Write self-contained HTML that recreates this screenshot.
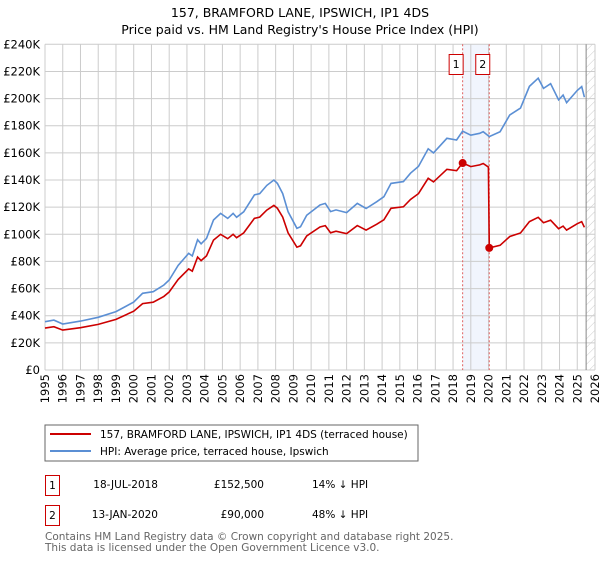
<!DOCTYPE html>
<html><head><meta charset="utf-8"><style>
body{margin:0;background:#fff;font-family:"Liberation Sans","DejaVu Sans",sans-serif;}
svg text{font-family:"DejaVu Sans","Liberation Sans",sans-serif;}
</style></head><body>
<svg id="c" width="600" height="560" xmlns="http://www.w3.org/2000/svg">
<text x="300" y="17" text-anchor="middle" font-size="12.5">157, BRAMFORD LANE, IPSWICH, IP1 4DS</text>
<text x="300" y="34" text-anchor="middle" font-size="12.5">Price paid vs. HM Land Registry's House Price Index (HPI)</text>
<defs><pattern id="hatch" width="6" height="6" patternUnits="userSpaceOnUse" patternTransform="rotate(45)"><line x1="0" y1="0" x2="0" y2="6" stroke="#ccc" stroke-width="1"/></pattern></defs>
<g id="grid"></g><g id="marks"></g><g id="axes"></g>
<rect x="45" y="425" width="373" height="36" fill="#fff" stroke="#666"/>
<line x1="50" y1="434" x2="91" y2="434" stroke="#cc0000" stroke-width="2"/>
<text x="100" y="438" font-size="10.5">157, BRAMFORD LANE, IPSWICH, IP1 4DS (terraced house)</text>
<line x1="50" y1="451" x2="91" y2="451" stroke="#5b8fd4" stroke-width="2"/>
<text x="100" y="455" font-size="10.5">HPI: Average price, terraced house, Ipswich</text>
<g font-size="10.5">
<rect x="45.5" y="475.5" width="14" height="20" fill="#fff" stroke="#cc0000"/>
<text x="52.5" y="489" text-anchor="middle">1</text>
<text x="158" y="488" text-anchor="end">18-JUL-2018</text>
<text x="264" y="488" text-anchor="end">£152,500</text>
<text x="312" y="488">14% ↓ HPI</text>
<rect x="45.5" y="505.5" width="14" height="20" fill="#fff" stroke="#cc0000"/>
<text x="52.5" y="519" text-anchor="middle">2</text>
<text x="158" y="518" text-anchor="end">13-JAN-2020</text>
<text x="264" y="518" text-anchor="end">£90,000</text>
<text x="312" y="518">48% ↓ HPI</text>
</g>
<text x="45" y="540" font-size="10.5" fill="#666">Contains HM Land Registry data © Crown copyright and database right 2025.</text>
<text x="45" y="551" font-size="10.5" fill="#666">This data is licensed under the Open Government Licence v3.0.</text>
</svg>
<script>
const hpiDates=[1995,1995.5,1996,1997,1998,1999,2000,2000.5,2001.1,2001.7,2002,2002.5,2003.1,2003.3,2003.6,2003.8,2004.1,2004.5,2004.9,2005.3,2005.6,2005.8,2006.2,2006.8,2007.1,2007.5,2007.9,2008.1,2008.4,2008.7,2009.2,2009.4,2009.75,2010.5,2010.8,2011.1,2011.4,2012,2012.6,2013.1,2013.7,2014.1,2014.5,2015.2,2015.6,2016.05,2016.6,2016.9,2017.65,2018.2,2018.54,2019,2019.5,2019.7,2020.04,2020.65,2021.2,2021.8,2022.3,2022.8,2023.1,2023.5,2023.95,2024.2,2024.4,2025,2025.25,2025.4];
const hpiValues=[35.6,36.8,33.9,36,38.8,43,50,56.5,57.7,62.6,66.3,77,86,84,96,93,97,110.5,115.4,111.7,115.4,112.5,116.6,129,130,136,140,137.5,130,116.6,104.4,105.6,114,121.6,122.8,116.7,118,116,122.8,119,124,127.7,137.5,138.8,145,150,163,160,170.7,169.5,176,173,174.4,175.6,172,175.6,188,193,209,215,207.5,211,199,202.6,197,206,208.8,201];
const saleDates=[2018.54,2020.04];
const salePrices=[152.5,90];
const saleLabels=["1","2"];
const yTicks=[0,20,40,60,80,100,120,140,160,180,200,220,240];
const xTicks=[1995,1996,1997,1998,1999,2000,2001,2002,2003,2004,2005,2006,2007,2008,2009,2010,2011,2012,2013,2014,2015,2016,2017,2018,2019,2020,2021,2022,2023,2024,2025,2026];
const X0=45,X1=595,Y0=370,Y1=44.3;
const sx=d=>X0+(d-1995)/(2026-1995)*(X1-X0);
const sy=v=>Y0-v/240*(Y0-Y1);
const NS="http://www.w3.org/2000/svg";
function mk(tag,attrs,parent){const e=document.createElementNS(NS,tag);for(const k in attrs)e.setAttribute(k,attrs[k]);parent.appendChild(e);return e;}
const grid=document.getElementById('grid'),marks=document.getElementById('marks'),axes=document.getElementById('axes');
let r=mk('rect',{x:sx(saleDates[0]),y:Y1,width:sx(saleDates[1])-sx(saleDates[0]),height:Y0-Y1,fill:'#eef3fc',opacity:0.8},grid);


yTicks.forEach(v=>{
 let l=mk('line',{x1:X0,x2:X1,y1:sy(v),y2:sy(v),stroke:'#ccc','stroke-width':1},grid);
 
 
 let t=mk('text',{x:40,y:sy(v)+4,'text-anchor':'end','font-size':11.5},axes);
 t.textContent=v===0?'£0':'£'+v+'K';
 
 
});
xTicks.forEach(d=>{
 let l=mk('line',{x1:sx(d),x2:sx(d),y1:Y1,y2:Y0,stroke:'#ccc','stroke-width':1},grid);
 
 
 let t=mk('text',{x:0,y:0,'font-size':11.5,'text-anchor':'end',transform:`translate(${sx(d)+4},${Y0+4}) rotate(-90)`},axes);
 t.textContent=d;
 
 
});
let h=mk('rect',{x:sx(2025.5),y:Y1,width:X1-sx(2025.5),height:Y0-Y1,fill:'url(#hatch)'},grid);


mk('line',{x1:sx(2025.5),x2:sx(2025.5),y1:Y1,y2:Y0,stroke:'#888','stroke-width':1},grid);
saleDates.forEach((d,i)=>{
 let l=mk('line',{x1:sx(d),x2:sx(d),y1:Y1,y2:Y0,stroke:'#e06060','stroke-width':1,'stroke-dasharray':'2,2'},marks);
 
 
 let b=mk('rect',{x:sx(d)-13.5,y:54.5,width:14,height:20,fill:'#fff',stroke:'#cc0000'},marks);
 
 
 let t=mk('text',{x:sx(d)-6.5,y:68,'font-size':11,'text-anchor':'middle'},marks);
 t.textContent=saleLabels[i];
 
 
});
function interp(d){for(let i=0;i<hpiDates.length-1;i++){if(d<=hpiDates[i+1]){const f=(d-hpiDates[i])/(hpiDates[i+1]-hpiDates[i]);return hpiValues[i]+f*(hpiValues[i+1]-hpiValues[i]);}}return hpiValues[hpiValues.length-1];}
let hp=hpiDates.map((d,i)=>sx(d).toFixed(1)+','+sy(hpiValues[i]).toFixed(1)).join(' ');
let hl=mk('polyline',{points:hp,fill:'none',stroke:'#5b8fd4','stroke-width':1.6},marks);


const r0=salePrices[0]/interp(saleDates[0]),r1=salePrices[1]/interp(saleDates[1]);
let pts=[];
hpiDates.forEach((d,i)=>{ if(d<saleDates[1]-0.05) pts.push([d,hpiValues[i]*r0]); });
pts.push([saleDates[1]-0.05,interp(saleDates[1]-0.05)*r0]);
pts.push([saleDates[1],salePrices[1]]);
hpiDates.forEach((d,i)=>{if(d>saleDates[1])pts.push([d,hpiValues[i]*r1]);});
let pl=mk('polyline',{points:pts.map(p=>sx(p[0]).toFixed(1)+','+sy(p[1]).toFixed(1)).join(' '),fill:'none',stroke:'#cc0000','stroke-width':1.6},marks);


saleDates.forEach((d,i)=>{
 let c=mk('circle',{cx:sx(d),cy:sy(salePrices[i]),r:4,fill:'#cc0000'},marks);
 
 
});
</script>
</body></html>
